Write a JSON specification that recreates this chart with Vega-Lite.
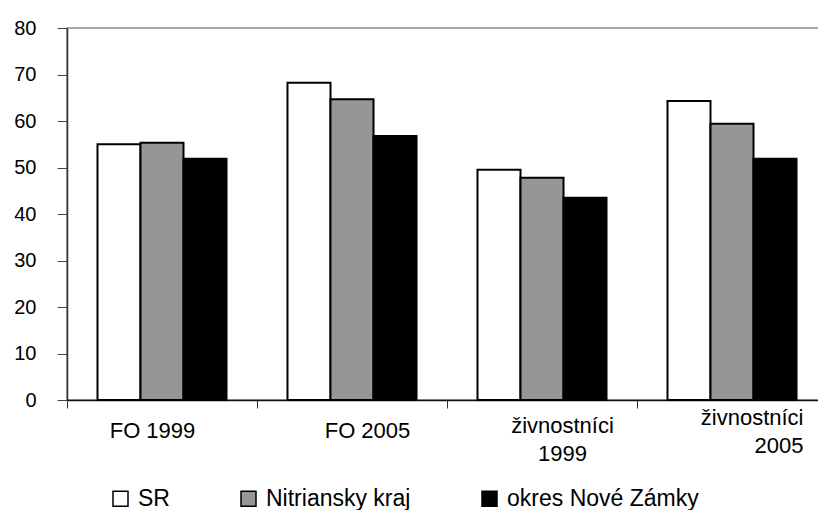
{
  "$schema": "https://vega.github.io/schema/vega-lite/v6.json",
  "width": 760,
  "height": 372,
  "autosize": {"type": "none"},
  "padding": {"left": 67, "top": 28, "right": -9, "bottom": 110},
  "background": "white",
  "config": {
    "view": {"stroke": "#8c8c8c", "strokeWidth": 1.5},
    "font": "Liberation Sans"
  },
  "data": {
    "values": [
      {"g": "FO 1999", "s": "SR", "v": 55.0},
      {"g": "FO 1999", "s": "Nitriansky kraj", "v": 55.3},
      {"g": "FO 1999", "s": "okres Nové Zámky", "v": 51.9},
      {"g": "FO 2005", "s": "SR", "v": 68.2},
      {"g": "FO 2005", "s": "Nitriansky kraj", "v": 64.7},
      {"g": "FO 2005", "s": "okres Nové Zámky", "v": 56.8},
      {"g": "živnostníci|1999", "s": "SR", "v": 49.5},
      {"g": "živnostníci|1999", "s": "Nitriansky kraj", "v": 47.8},
      {"g": "živnostníci|1999", "s": "okres Nové Zámky", "v": 43.5},
      {"g": "živnostníci|2005", "s": "SR", "v": 64.3},
      {"g": "živnostníci|2005", "s": "Nitriansky kraj", "v": 59.4},
      {"g": "živnostníci|2005", "s": "okres Nové Zámky", "v": 51.9}
    ]
  },
  "mark": {"type": "bar", "stroke": "black", "strokeWidth": 2},
  "encoding": {
    "x": {
      "field": "g",
      "type": "nominal",
      "sort": null,
      "scale": {"paddingInner": 0, "paddingOuter": 0},
      "axis": {
        "title": null,
        "labelExpr": "split(datum.label, '|')",
        "tickBand": "extent",
        "tickSize": 8,
        "tickColor": "#333",
        "domainColor": "#111",
        "domainWidth": 1.5,
        "labelFontSize": 22,
        "labelColor": "black",
        "labelLineHeight": 28,
        "labelAngle": 0,
        "labelBaseline": "top",
        "labelPadding": {
          "condition": [
            {"test": "datum.value === 'živnostníci|1999'", "value": 7},
            {"test": "datum.value === 'živnostníci|2005'", "value": -1}
          ],
          "value": 12
        },
        "labelOffset": {
          "condition": [
            {"test": "datum.value === 'FO 1999'", "value": -10},
            {"test": "datum.value === 'FO 2005'", "value": 15},
            {"test": "datum.value === 'živnostníci|1999'", "value": 20}
          ],
          "value": 71
        },
        "labelAlign": {
          "condition": {"test": "datum.value === 'živnostníci|2005'", "value": "right"},
          "value": "center"
        }
      }
    },
    "xOffset": {
      "field": "s",
      "type": "nominal",
      "scale": {
        "domain": ["SR", "Nitriansky kraj", "okres Nové Zámky"],
        "paddingInner": 0,
        "paddingOuter": 0.709
      }
    },
    "y": {
      "field": "v",
      "type": "quantitative",
      "scale": {"domain": [0, 80]},
      "axis": {
        "title": null,
        "values": [0, 10, 20, 30, 40, 50, 60, 70, 80],
        "grid": false,
        "tickSize": 10,
        "tickColor": "#444",
        "domainColor": "#333",
        "domainWidth": 1.5,
        "labelFontSize": 20,
        "labelPadding": 21,
        "labelColor": "black"
      }
    },
    "color": {
      "field": "s",
      "type": "nominal",
      "scale": {
        "domain": ["SR", "Nitriansky kraj", "okres Nové Zámky"],
        "range": ["#ffffff", "#969696", "#000000"]
      },
      "legend": {
        "orient": "none",
        "legendX": 42,
        "legendY": 459,
        "direction": "horizontal",
        "title": null,
        "padding": 0,
        "labelFontSize": 23,
        "labelColor": "black",
        "labelOffset": 6,
        "columnPadding": 67,
        "symbolType": "square",
        "symbolSize": 225,
        "symbolStrokeColor": "black",
        "symbolStrokeWidth": 1.5,
        "labelLimit": 400
      }
    }
  }
}
